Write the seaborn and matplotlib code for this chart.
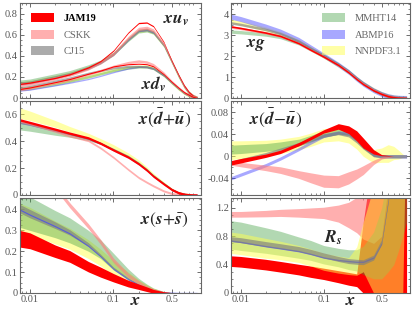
import numpy as np
import matplotlib
matplotlib.use("Agg")
import matplotlib.pyplot as plt
import matplotlib.ticker as mticker
from matplotlib.patches import Patch
import seaborn as sns

# x nodes shared by every panel
x = [0.0075, 0.01, 0.02, 0.03, 0.05, 0.07, 0.1, 0.15, 0.2, 0.25, 0.3, 0.4, 0.5, 0.6, 0.7, 0.8, 0.9, 1.0]

groups = ["JAM19", "CSKK", "CJ15", "MMHT14", "ABMP16", "NNPDF3.1"]

# ---- x u_v ----
uv_jam = [0.133, 0.146, 0.19, 0.225, 0.29, 0.35, 0.45, 0.62, 0.71, 0.715, 0.68, 0.53, 0.35, 0.22, 0.12, 0.055, 0.02, 0.003]
uv_cskk = [0.12, 0.135, 0.185, 0.22, 0.28, 0.34, 0.42, 0.57, 0.655, 0.665, 0.64, 0.51, 0.345, 0.215, 0.115, 0.052, 0.018, 0.003]
uv_cj = [0.14, 0.15, 0.20, 0.23, 0.29, 0.34, 0.42, 0.56, 0.64, 0.65, 0.625, 0.50, 0.34, 0.21, 0.112, 0.05, 0.018, 0.003]
uv_mmht = [0.155, 0.165, 0.215, 0.245, 0.30, 0.345, 0.42, 0.55, 0.63, 0.64, 0.62, 0.50, 0.34, 0.21, 0.11, 0.05, 0.018, 0.003]
uv_abmp = [0.13, 0.14, 0.19, 0.225, 0.28, 0.33, 0.41, 0.55, 0.635, 0.645, 0.62, 0.505, 0.345, 0.212, 0.112, 0.05, 0.017, 0.003]
uv_nnpdf = [0.14, 0.15, 0.20, 0.23, 0.285, 0.335, 0.415, 0.555, 0.635, 0.645, 0.62, 0.50, 0.34, 0.205, 0.108, 0.048, 0.016, 0.002]
uv_err = [0.006, 0.015, 0.012, 0.015, 0.008, 0.015]

# ---- x d_v ----
dv_jam = [0.085, 0.10, 0.15, 0.18, 0.23, 0.26, 0.30, 0.32, 0.325, 0.32, 0.30, 0.225, 0.152, 0.098, 0.055, 0.03, 0.01, 0.002]
dv_cskk = [0.08, 0.095, 0.145, 0.175, 0.225, 0.26, 0.30, 0.335, 0.35, 0.34, 0.315, 0.235, 0.155, 0.098, 0.055, 0.028, 0.01, 0.002]
dv_cj = [0.095, 0.11, 0.16, 0.19, 0.235, 0.26, 0.285, 0.30, 0.30, 0.295, 0.28, 0.215, 0.145, 0.092, 0.05, 0.026, 0.009, 0.002]
dv_mmht = [0.08, 0.09, 0.13, 0.16, 0.20, 0.23, 0.26, 0.285, 0.295, 0.295, 0.28, 0.215, 0.145, 0.09, 0.048, 0.024, 0.008, 0.002]
dv_abmp = [0.07, 0.08, 0.12, 0.145, 0.18, 0.21, 0.245, 0.28, 0.295, 0.295, 0.28, 0.215, 0.145, 0.09, 0.048, 0.024, 0.008, 0.002]
dv_nnpdf = [0.09, 0.10, 0.14, 0.165, 0.205, 0.235, 0.265, 0.29, 0.30, 0.30, 0.285, 0.215, 0.14, 0.085, 0.045, 0.022, 0.007, 0.001]
dv_err = [0.005, 0.012, 0.01, 0.012, 0.006, 0.012]

# ---- x g ----
g_jam = [3.43, 3.35, 3.13, 2.97, 2.62, 2.30, 1.98, 1.58, 1.22, 0.90, 0.66, 0.36, 0.19, 0.085, 0.035, 0.012, 0.003, 0.0]
g_cskk = [3.40, 3.33, 3.12, 2.96, 2.62, 2.30, 1.98, 1.58, 1.24, 0.92, 0.68, 0.38, 0.20, 0.09, 0.036, 0.012, 0.003, 0.0]
g_cj = [3.60, 3.52, 3.28, 3.08, 2.72, 2.38, 2.04, 1.62, 1.28, 0.95, 0.70, 0.39, 0.20, 0.09, 0.036, 0.012, 0.003, 0.0]
g_mmht = [3.18, 3.15, 3.04, 2.92, 2.62, 2.32, 2.00, 1.60, 1.26, 0.94, 0.70, 0.39, 0.21, 0.095, 0.04, 0.014, 0.004, 0.0]
g_abmp = [3.90, 3.78, 3.42, 3.18, 2.78, 2.42, 2.04, 1.60, 1.25, 0.92, 0.68, 0.37, 0.19, 0.085, 0.034, 0.011, 0.003, 0.0]
g_nnpdf = [3.68, 3.58, 3.30, 3.08, 2.70, 2.36, 2.00, 1.58, 1.25, 0.93, 0.70, 0.40, 0.21, 0.10, 0.045, 0.016, 0.005, 0.0]
g_err = [0.04, 0.06, 0.06, 0.08, 0.12, 0.10]

# ---- x(dbar+ubar) ----
sea_jam = [0.56, 0.54, 0.49, 0.46, 0.425, 0.385, 0.335, 0.282, 0.232, 0.185, 0.14, 0.082, 0.04, 0.017, 0.006, 0.002, 0.0, 0.0]
sea_cskk = [0.55, 0.53, 0.475, 0.44, 0.405, 0.35, 0.28, 0.19, 0.13, 0.095, 0.068, 0.03, 0.011, 0.004, 0.001, 0.0, 0.0, 0.0]
sea_cj = [0.54, 0.525, 0.48, 0.455, 0.42, 0.385, 0.34, 0.287, 0.236, 0.19, 0.143, 0.085, 0.042, 0.018, 0.007, 0.002, 0.0, 0.0]
sea_mmht = [0.52, 0.505, 0.465, 0.445, 0.415, 0.385, 0.34, 0.288, 0.238, 0.19, 0.146, 0.088, 0.045, 0.02, 0.008, 0.003, 0.001, 0.0]
sea_abmp = [0.54, 0.525, 0.48, 0.455, 0.42, 0.385, 0.335, 0.282, 0.232, 0.185, 0.14, 0.082, 0.04, 0.017, 0.006, 0.002, 0.0, 0.0]
sea_nnpdf = [0.61, 0.59, 0.53, 0.49, 0.445, 0.405, 0.36, 0.302, 0.25, 0.2, 0.152, 0.09, 0.045, 0.02, 0.01, 0.006, 0.004, 0.0]
sea_mmht_err = [0.035, 0.03, 0.02, 0.015, 0.01, 0.008, 0.008, 0.008, 0.008, 0.008, 0.007, 0.006, 0.004, 0.003, 0.002, 0.001, 0.001, 0.0]
sea_nnpdf_err = [0.04, 0.035, 0.025, 0.02, 0.015, 0.015, 0.015, 0.012, 0.012, 0.01, 0.01, 0.008, 0.006, 0.005, 0.005, 0.005, 0.004, 0.0]
sea_err = [0.009, 0.008, 0.006, sea_mmht_err, 0.007, sea_nnpdf_err]

# ---- x(dbar-ubar) ----
asym_jam = [-0.012, -0.008, 0.001, 0.008, 0.022, 0.033, 0.045, 0.054, 0.048, 0.037, 0.024, 0.008, 0.002, 0.001, 0.0, 0.0, 0.0, 0.0]
asym_cskk = [-0.012, -0.015, -0.021, -0.025, -0.033, -0.039, -0.045, -0.046, -0.039, -0.032, -0.025, -0.011, -0.003, -0.001, 0.0, 0.0, 0.0, 0.0]
asym_cj = [-0.012, -0.007, 0.004, 0.012, 0.022, 0.030, 0.038, 0.042, 0.038, 0.027, 0.016, 0.002, 0.0, 0.0, 0.0, 0.0, 0.0, 0.0]
asym_mmht = [0.012, 0.013, 0.016, 0.019, 0.025, 0.032, 0.040, 0.046, 0.044, 0.032, 0.018, 0.002, 0.0, 0.0, 0.0, 0.0, 0.0, 0.0]
asym_abmp = [-0.040, -0.033, -0.016, -0.004, 0.013, 0.025, 0.037, 0.043, 0.041, 0.030, 0.018, 0.003, 0.0, 0.0, 0.0, 0.0, 0.0, 0.0]
asym_nnpdf = [0.011, 0.012, 0.015, 0.018, 0.024, 0.030, 0.038, 0.040, 0.036, 0.025, 0.012, 0.0, 0.002, 0.005, 0.006, 0.003, 0.001, 0.0]
asym_jam_err = [0.004, 0.004, 0.003, 0.003, 0.003, 0.003, 0.003, 0.005, 0.007, 0.009, 0.009, 0.004, 0.001, 0.0005, 0.0, 0.0, 0.0, 0.0]
asym_cskk_err = [0.004, 0.004, 0.005, 0.006, 0.007, 0.009, 0.011, 0.011, 0.011, 0.009, 0.008, 0.004, 0.002, 0.001, 0.0, 0.0, 0.0, 0.0]
asym_mmht_err = [0.008, 0.008, 0.007, 0.007, 0.006, 0.006, 0.006, 0.006, 0.006, 0.005, 0.004, 0.002, 0.001, 0.0, 0.0, 0.0, 0.0, 0.0]
asym_nnpdf_err = [0.017, 0.016, 0.014, 0.013, 0.012, 0.012, 0.012, 0.012, 0.012, 0.012, 0.012, 0.012, 0.013, 0.016, 0.012, 0.008, 0.003, 0.0]
asym_err = [asym_jam_err, asym_cskk_err, 0.003, asym_mmht_err, 0.003, asym_nnpdf_err]

# ---- x(s+sbar) ----
s_jam = [0.26, 0.25, 0.20, 0.175, 0.126, 0.10, 0.073, 0.045, 0.03, 0.018, 0.008, 0.002, 0.0005, 0.0, 0.0, 0.0, 0.0, 0.0]
s_cskk = [0.64, 0.60, 0.51, 0.42, 0.32, 0.245, 0.156, 0.085, 0.05, 0.028, 0.015, 0.004, 0.001, 0.0, 0.0, 0.0, 0.0, 0.0]
s_cj = [0.405, 0.38, 0.325, 0.29, 0.232, 0.18, 0.12, 0.07, 0.04, 0.025, 0.013, 0.003, 0.001, 0.0, 0.0, 0.0, 0.0, 0.0]
s_mmht = [0.40, 0.38, 0.33, 0.30, 0.25, 0.21, 0.15, 0.09, 0.055, 0.033, 0.018, 0.005, 0.001, 0.0, 0.0, 0.0, 0.0, 0.0]
s_abmp = [0.40, 0.375, 0.32, 0.285, 0.225, 0.175, 0.115, 0.065, 0.04, 0.024, 0.012, 0.003, 0.001, 0.0, 0.0, 0.0, 0.0, 0.0]
s_nnpdf = [0.36, 0.345, 0.29, 0.26, 0.21, 0.17, 0.12, 0.075, 0.045, 0.028, 0.015, 0.004, 0.001, 0.0, 0.0, 0.0, 0.0, 0.0]
s_jam_err = [0.04, 0.038, 0.03, 0.028, 0.025, 0.024, 0.02, 0.016, 0.013, 0.011, 0.009, 0.004, 0.001, 0.0, 0.0, 0.0, 0.0, 0.0]
s_cskk_err = [0.012, 0.012, 0.012, 0.012, 0.012, 0.012, 0.011, 0.01, 0.009, 0.007, 0.006, 0.003, 0.001, 0.0, 0.0, 0.0, 0.0, 0.0]
s_cj_err = [0.02, 0.02, 0.016, 0.013, 0.009, 0.006, 0.004, 0.003, 0.002, 0.002, 0.001, 0.001, 0.0, 0.0, 0.0, 0.0, 0.0, 0.0]
s_mmht_err = [0.085, 0.08, 0.065, 0.06, 0.05, 0.045, 0.04, 0.025, 0.015, 0.01, 0.006, 0.002, 0.0005, 0.0, 0.0, 0.0, 0.0, 0.0]
s_nnpdf_err = [0.07, 0.065, 0.055, 0.05, 0.045, 0.04, 0.035, 0.025, 0.018, 0.012, 0.008, 0.003, 0.001, 0.0, 0.0, 0.0, 0.0, 0.0]
s_err = [s_jam_err, s_cskk_err, s_cj_err, s_mmht_err, 0.003, s_nnpdf_err]

# ---- R_s ----
rs_jam = [0.45, 0.44, 0.40, 0.37, 0.33, 0.30, 0.27, 0.23, 0.20, 0.18, 0.5, 1.0, 1.0, 1.0, 1.0, 1.0, 1.0, 1.0]
rs_cskk = [1.11, 1.11, 1.12, 1.13, 1.13, 1.13, 1.13, 1.12, 1.10, 1.10, 1.08, 1.15, 1.35, 1.8, 2.0, 2.0, 2.0, 2.0]
rs_cj = [0.76, 0.745, 0.69, 0.66, 0.62, 0.58, 0.53, 0.48, 0.45, 0.44, 0.435, 0.50, 0.72, 1.3, 2.0, 2.5, 2.5, 2.5]
rs_mmht = [0.82, 0.80, 0.74, 0.70, 0.64, 0.60, 0.54, 0.50, 0.47, 0.46, 0.46, 0.53, 0.70, 1.0, 1.3, 1.6, 1.8, 2.0]
rs_abmp = [0.74, 0.72, 0.66, 0.63, 0.59, 0.55, 0.50, 0.465, 0.45, 0.44, 0.44, 0.50, 0.70, 1.3, 2.0, 2.5, 2.5, 2.5]
rs_nnpdf = [0.71, 0.69, 0.63, 0.60, 0.55, 0.50, 0.44, 0.40, 0.38, 0.45, 0.65, 0.75, 1.0, 1.0, 1.0, 1.0, 1.0, 3.0]
rs_jam_err = [0.075, 0.075, 0.075, 0.075, 0.075, 0.08, 0.08, 0.085, 0.09, 0.09, 0.5, 1.0, 1.0, 1.0, 1.0, 1.0, 1.0, 1.0]
rs_cskk_err = [0.04, 0.04, 0.045, 0.05, 0.06, 0.07, 0.08, 0.12, 0.18, 0.25, 0.32, 0.45, 0.55, 0.3, 0.2, 0.2, 0.2, 0.2]
rs_mmht_err = [0.2, 0.2, 0.18, 0.17, 0.15, 0.14, 0.13, 0.13, 0.14, 0.15, 0.2, 0.33, 0.5, 0.7, 0.9, 1.0, 1.0, 1.0]
rs_nnpdf_err = [0.15, 0.15, 0.14, 0.13, 0.12, 0.12, 0.12, 0.12, 0.12, 0.2, 0.35, 0.75, 1.0, 1.0, 1.0, 1.0, 1.0, 0.1]
rs_err = [rs_jam_err, rs_cskk_err, 0.035, rs_mmht_err, 0.01, rs_nnpdf_err]

colors = {"JAM19": "#ff0000", "CSKK": "#ff7a7a", "CJ15": "#7f7f7f",
          "MMHT14": "#3f9f3f", "ABMP16": "#3f3fff", "NNPDF3.1": "#ffff50"}
alphas = {"JAM19": 1.0, "CSKK": 0.6, "CJ15": 0.65, "MMHT14": 0.4, "ABMP16": 0.45, "NNPDF3.1": 0.5}
order = ["NNPDF3.1", "MMHT14", "ABMP16", "CJ15", "CSKK", "JAM19"]

sns.set_theme(style="ticks")
plt.rcParams["font.family"] = ["Liberation Serif", "DejaVu Serif"]
plt.rcParams["mathtext.fontset"] = "stix"

fig = plt.figure(figsize=(4.15, 3.12), dpi=100)
cols = [(20 / 415, 180.5 / 415), (231 / 415, 179 / 415)]
rows = [(1 - 98 / 312, 95 / 312), (1 - 195 / 312, 94 / 312), (1 - 293 / 312, 95 / 312)]
axes = [[fig.add_axes([c[0], r[0], c[1], r[1]]) for c in cols] for r in rows]


def draw(ax, centers, errs, seq=order):
    for name in seq:
        i = groups.index(name)
        c = np.array(centers[i])
        e = np.array(errs[i]) if np.ndim(errs[i]) else errs[i]
        a = alphas[name]
        if name == "ABMP16" and seq is not order:
            a = 0.7
        ax.fill_between(x, c - e, c + e, color=colors[name], alpha=a, lw=0)


draw(axes[0][0], [uv_jam, uv_cskk, uv_cj, uv_mmht, uv_abmp, uv_nnpdf], uv_err)
draw(axes[0][0], [dv_jam, dv_cskk, dv_cj, dv_mmht, dv_abmp, dv_nnpdf], dv_err)
draw(axes[0][1], [g_jam, g_cskk, g_cj, g_mmht, g_abmp, g_nnpdf], g_err)
draw(axes[1][0], [sea_jam, sea_cskk, sea_cj, sea_mmht, sea_abmp, sea_nnpdf], sea_err)
draw(axes[1][1], [asym_jam, asym_cskk, asym_cj, asym_mmht, asym_abmp, asym_nnpdf], asym_err)
draw(axes[2][0], [s_jam, s_cskk, s_cj, s_mmht, s_abmp, s_nnpdf], s_err,
     seq=["NNPDF3.1", "MMHT14", "CJ15", "ABMP16", "CSKK", "JAM19"])
draw(axes[2][1], [rs_jam, rs_cskk, rs_cj, rs_mmht, rs_abmp, rs_nnpdf], rs_err,
     seq=["JAM19", "CSKK", "MMHT14", "NNPDF3.1", "ABMP16", "CJ15"])

ylims = [[(0, 0.9), (0, 4.55)], [(0, 0.70), (-0.07, 0.10)], [(0, 0.455), (0, 1.34)]]
yticks = [[[0, 0.2, 0.4, 0.6, 0.8], [0, 1, 2, 3, 4]],
          [[0, 0.2, 0.4, 0.6], [-0.04, 0, 0.04, 0.08]],
          [[0, 0.1, 0.2, 0.3, 0.4], [0, 0.4, 0.8, 1.2]]]
yminor = [[0.05, 0.25], [0.05, 0.01], [0.025, 0.1]]

tick_grey = "#555555"
for r in range(3):
    for c in range(2):
        ax = axes[r][c]
        ax.set_xscale("log")
        ax.set_xlim(0.0076, 1.1)
        ax.set_ylim(*ylims[r][c])
        ax.set_yticks(yticks[r][c])
        ax.yaxis.set_minor_locator(mticker.MultipleLocator(yminor[r][c]))
        ax.yaxis.set_major_formatter(mticker.FuncFormatter(lambda v, p: "%g" % v))
        ax.set_xticks([0.01, 0.1, 0.5])
        ax.xaxis.set_minor_locator(mticker.LogLocator(base=10, subs=np.arange(2, 10)))
        ax.xaxis.set_minor_formatter(mticker.NullFormatter())
        if r == 2:
            ax.set_xticklabels(["0.01", "0.1", "0.5"])
        else:
            ax.set_xticklabels([])
        ax.tick_params(which="both", direction="in", top=True, right=True,
                       colors=tick_grey, labelsize=7.5, pad=1.5)
        ax.tick_params(which="major", length=3, width=0.6)
        ax.tick_params(which="minor", length=1.6, width=0.5)
        for sp in ax.spines.values():
            sp.set_color("#666666")
            sp.set_linewidth(0.8)
        ax.set_facecolor("white")

lab = dict(fontsize=12.5, ha="center", va="center")
axes[0][0].text(0.865, 0.82, r"$\mathbfit{x}\mathbfit{u}_{\mathbfit{v}}$", transform=axes[0][0].transAxes, **lab)
axes[0][0].text(0.74, 0.14, r"$\mathbfit{x}\mathbfit{d}_{\mathbfit{v}}$", transform=axes[0][0].transAxes, **lab)
axes[0][1].text(0.14, 0.56, r"$\mathbfit{x}\mathbfit{g}$", transform=axes[0][1].transAxes, **lab)
axes[1][0].text(0.80, 0.82, r"$\mathbfit{x}(\bar{\mathbfit{d}}\!+\!\bar{\mathbfit{u}})$", transform=axes[1][0].transAxes, **lab)
axes[1][1].text(0.25, 0.82, r"$\mathbfit{x}(\bar{\mathbfit{d}}\!-\!\bar{\mathbfit{u}})$", transform=axes[1][1].transAxes, **lab)
axes[2][0].text(0.80, 0.77, r"$\mathbfit{x}(\mathbfit{s}\!+\!\bar{\mathbfit{s}})$", transform=axes[2][0].transAxes, **lab)
axes[2][1].text(0.57, 0.58, r"$\mathbfit{R}_{\mathbfit{s}}$", transform=axes[2][1].transAxes, **lab)
for c, fx in [(0, 0.64), (1, 0.67)]:
    axes[2][c].text(fx, -0.075, r"$\mathbfit{x}$", transform=axes[2][c].transAxes,
                    fontsize=13, ha="center", va="center")

leg_kw = dict(frameon=False, fontsize=7.5, handlelength=2.2, handleheight=1.0,
              labelspacing=0.6, handletextpad=0.9, borderaxespad=0.3)
h1 = [Patch(facecolor=colors[n], alpha=alphas[n], lw=0) for n in ["JAM19", "CSKK", "CJ15"]]
lg1 = axes[0][0].legend(h1, ["JAM19", "CSKK", "CJ15"], loc="upper left", bbox_to_anchor=(0.02, 0.97), **leg_kw)
for i, t in enumerate(lg1.get_texts()):
    t.set_color("black" if i == 0 else "#666666")
    if i == 0:
        t.set_fontweight("bold")
h2 = [Patch(facecolor=colors[n], alpha=alphas[n], lw=0) for n in ["MMHT14", "ABMP16", "NNPDF3.1"]]
lg2 = axes[0][1].legend(h2, ["MMHT14", "ABMP16", "NNPDF3.1"], loc="upper left", bbox_to_anchor=(0.47, 0.97), **leg_kw)
for t in lg2.get_texts():
    t.set_color("#666666")

fig.savefig("out.png", dpi=100)
